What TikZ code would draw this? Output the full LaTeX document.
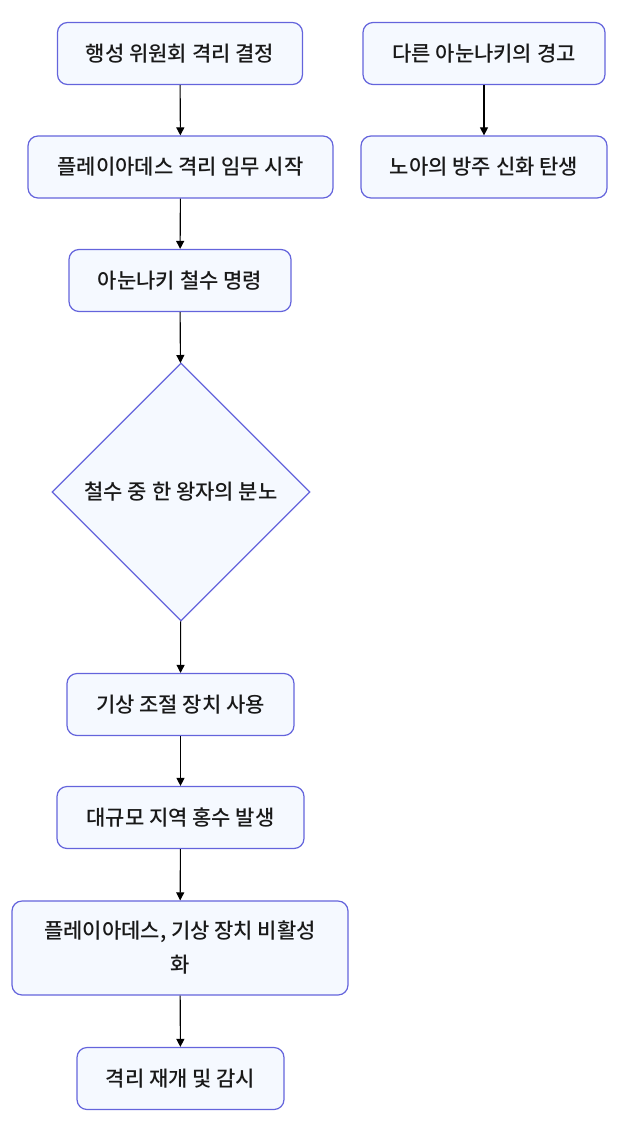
\documentclass[tikz,border=0pt]{standalone}
\usepackage{fontspec}
\setmainfont{Noto Sans CJK KR}[UprightFont=* Medium]
\usetikzlibrary{shapes.geometric,arrows.meta}
\definecolor{boxline}{RGB}{100,100,220}
\definecolor{boxfill}{RGB}{245,249,255}
\definecolor{boxtext}{RGB}{25,25,25}
\begin{document}
\begin{tikzpicture}[x=1pt,y=-1pt,
    box/.style={draw=boxline,fill=boxfill,line width=1.2pt,rounded corners=10pt,
      text=boxtext,font=\fontsize{21}{34}\selectfont,inner sep=0pt,
      minimum height=62pt,align=center},
    decision/.style={diamond,draw=boxline,fill=boxfill,line width=1.2pt,
      text=boxtext,font=\fontsize{21}{34}\selectfont,inner sep=0pt,
      minimum width=258pt,minimum height=258pt},
    flow/.style={-{Triangle[length=8pt,width=8pt]},line width=1.1pt}]
  \useasboundingbox (0,0) rectangle (620,1130);
  % left column
  \node[box,minimum width=245pt] (council) at (180,53.5) {행성 위원회 격리 결정};
  \node[box,minimum width=305pt] (mission) at (180.5,167) {플레이아데스 격리 임무 시작};
  \node[box,minimum width=222pt] (retreat) at (180,280.5) {아눈나키 철수 명령};
  \node[decision] (prince) at (181,492) {철수 중 한 왕자의 분노};
  \node[box,minimum width=227pt] (weather) at (180.5,704.5) {기상 조절 장치 사용};
  \node[box,minimum width=247pt] (flood) at (180.5,817.5) {대규모 지역 홍수 발생};
  \node[box,minimum width=336pt,minimum height=94pt] (disable) at (180,948)
    {플레이아데스, 기상 장치 비활성\\화};
  \node[box,minimum width=207pt] (resume) at (180.5,1078.5) {격리 재개 및 감시};
  % right column
  \node[box,minimum width=242pt] (warning) at (484,53.5) {다른 아눈나키의 경고};
  \node[box,minimum width=246pt] (noah) at (484,167) {노아의 방주 신화 탄생};
  \draw[flow] (council) -- (mission);
  \draw[flow] (mission) -- (retreat);
  \draw[flow] (retreat) -- (prince);
  \draw[flow] (prince) -- (weather);
  \draw[flow] (weather) -- (flood);
  \draw[flow] (flood) -- (disable);
  \draw[flow] (disable) -- (resume);
  \draw[flow] (warning) -- (noah);
\end{tikzpicture}
\end{document}
